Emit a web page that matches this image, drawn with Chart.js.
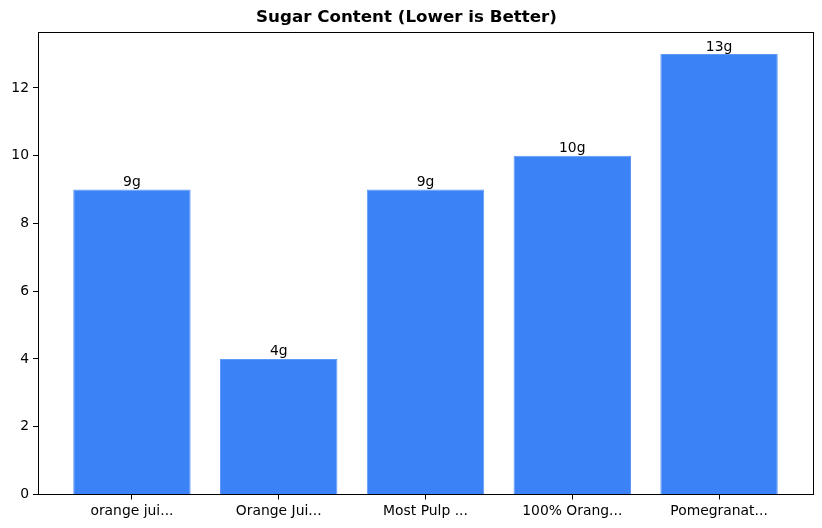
<!DOCTYPE html>
<html>
<head>
<meta charset="utf-8">
<script src="https://cdn.jsdelivr.net/npm/chart.js@4"></script>
<style>
  body { margin: 0; background: #fff; }
</style>
</head>
<body>
<canvas id="myChart" width="822" height="528"></canvas>
<script>
// Datos del gráfico
const categories = ['orange jui...', 'Orange Jui...', 'Most Pulp ...', '100% Orang...', 'Pomegranat...'];
const sugarValues = [9, 4, 9, 10, 13];
const yTicks = [0, 2, 4, 6, 8, 10, 12];

const FONT = "'DejaVu Sans', sans-serif";

// Etiquetas encima de cada barra y marco del área
const barLabels = {
    id: 'barLabels',
    afterDatasetsDraw(chart) {
        const ctx = chart.ctx;
        const meta = chart.getDatasetMeta(0);
        ctx.save();
        ctx.font = '13.9px ' + FONT;
        ctx.fillStyle = '#000';
        ctx.textAlign = 'center';
        ctx.textBaseline = 'alphabetic';
        meta.data.forEach((bar, i) => {
            ctx.fillText(sugarValues[i] + 'g', bar.x, bar.y - 3.5);
        });
        const a = chart.chartArea;
        ctx.strokeStyle = '#000';
        ctx.lineWidth = 1;
        ctx.strokeRect(Math.round(a.left) + 0.5, Math.round(a.top) + 0.5,
            Math.round(a.right - a.left), Math.round(a.bottom - a.top));
        ctx.restore();
    }
};

const ctx = document.getElementById('myChart').getContext('2d');
const myChart = new Chart(ctx, {
    type: 'bar',
    data: {
        datasets: [{
            data: sugarValues.map((v, i) => ({ x: i, y: v })),
            backgroundColor: '#3b82f6',
            borderColor: '#5e98f8',
            borderWidth: 1,
            barPercentage: 0.8,
            categoryPercentage: 1
        }]
    },
    options: {
        responsive: false,
        animation: false,
        layout: { padding: { left: 0, right: 9, top: 0, bottom: 0 } },
        plugins: {
            legend: { display: false },
            tooltip: { enabled: false },
            title: {
                display: true,
                text: 'Sugar Content (Lower is Better)',
                color: '#000',
                font: { family: FONT, size: 16.7, weight: 'bold' },
                padding: { top: 8, bottom: 4 }
            }
        },
        scales: {
            x: {
                type: 'linear',
                offset: false,
                min: -0.64,
                max: 4.64,
                afterBuildTicks: s => { s.ticks = categories.map((c, i) => ({ value: i })); },
                afterFit: s => { s.height = 33.5; },
                ticks: {
                    color: '#000',
                    font: { family: FONT, size: 13.9 },
                    padding: 4,
                    maxRotation: 0,
                    autoSkip: false,
                    callback: v => categories[v]
                },
                grid: { offset: false, drawOnChartArea: false, tickLength: 5, color: '#000' },
                border: { color: '#000' }
            },
            y: {
                min: 0,
                max: 13.65,
                afterBuildTicks: s => { s.ticks = yTicks.map(v => ({ value: v })); },
                afterFit: s => { s.width = 38; },
                ticks: {
                    color: '#000',
                    font: { family: FONT, size: 13.9 },
                    padding: 4
                },
                grid: { drawOnChartArea: false, tickLength: 5, color: '#000' },
                border: { color: '#000' }
            }
        }
    },
    plugins: [barLabels]
});
</script>
</body>
</html>
